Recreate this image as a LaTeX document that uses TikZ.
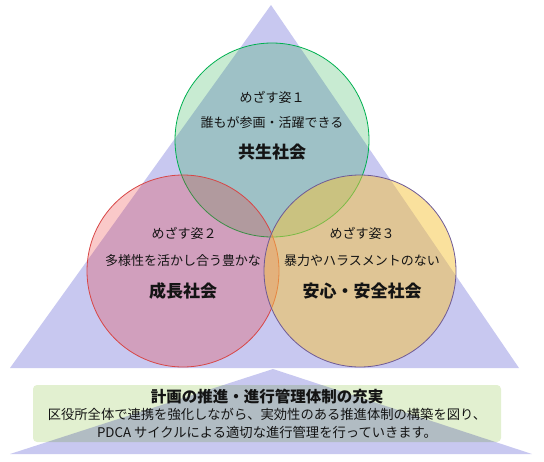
\documentclass[tikz,border=0pt]{standalone}
\usepackage{fontspec}
\setmainfont{Noto Sans CJK JP}
\usetikzlibrary{positioning}
\definecolor{trifill}{RGB}{200,200,240}
\definecolor{kyoseifill}{RGB}{36,176,76}
\definecolor{kyoseiline}{RGB}{0,176,80}
\definecolor{seichofill}{RGB}{236,40,40}
\definecolor{seicholine}{RGB}{215,70,70}
\definecolor{anshinfill}{RGB}{246,196,60}
\definecolor{anshinline}{RGB}{110,90,150}
\definecolor{planfill}{RGB}{226,240,208}
\definecolor{ink}{RGB}{20,20,20}

\begin{document}
\begin{tikzpicture}[
  x=1pt, y=-1pt,
  every node/.style={inner sep=0pt, text=ink, align=center},
  tri/.style={fill=trifill, draw=none},
  ring/.style={circle, minimum size=#1, line width=0.8pt},
  kicker/.style={font=\fontsize{13}{16}\selectfont},
  vision/.style={font=\fontsize{17}{20}\selectfont\bfseries},
  planbox/.style={rectangle, rounded corners=4pt, fill=planfill,
                  minimum width=468pt, minimum height=57pt},
  plantitle/.style={font=\fontsize{15.5}{18}\selectfont\bfseries},
  plantext/.style={font=\fontsize{13.3}{17}\selectfont}
]
  \useasboundingbox (0,0) rectangle (544,461);

  % triangles behind everything
  \path[tri] (271,5) -- (10,368) -- (519,368) -- cycle;
  \path[tri] (273,369) -- (10,454) -- (532,454) -- cycle;

  % the three goals
  \node[ring=194pt, fill=kyoseifill, fill opacity=0.25, draw=kyoseiline] (c1) at (272,140) {};
  \node[ring=192pt, fill=seichofill, fill opacity=0.25, draw=seicholine] (c2) at (183,271) {};
  \node[ring=192pt, fill=anshinfill, fill opacity=0.5, draw=anshinline] (c3) at (360,271) {};

  \node[kicker] (h1) at (272,97)  {めざす姿１};
  \node[kicker] (s1) at (272,123) {誰もが参画・活躍できる};
  \node[vision] (v1) at (272,152) {共生社会};

  \node[kicker] (h2) at (184,233) {めざす姿２};
  \node[kicker] (s2) at (183,261) {多様性を活かし合う豊かな};
  \node[vision] (v2) at (183,291) {成長社会};

  \node[kicker] (h3) at (362,233) {めざす姿３};
  \node[kicker] (s3) at (362,261) {暴力やハラスメントのない};
  \node[vision] (v3) at (362,291) {安心・安全社会};

  % base: plan management
  \node[planbox, blend mode=multiply] (plan) at (267,413.5) {};
  \node[plantitle] (p0) at (267,397) {計画の推進・進行管理体制の充実};
  \node[plantext]  (p1) at (267,414) {区役所全体で連携を強化しながら、実効性のある推進体制の構築を図り、};
  \node[plantext]  (p2) at (267,432) {PDCA サイクルによる適切な進行管理を行っていきます。};
\end{tikzpicture}
\end{document}
